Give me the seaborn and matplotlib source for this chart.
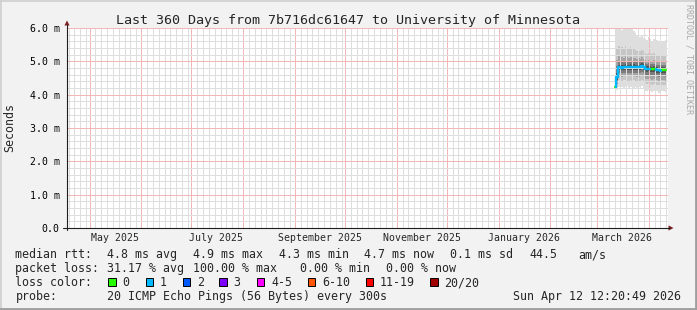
import numpy as np
import pandas as pd
import matplotlib
matplotlib.use("Agg")
import matplotlib.pyplot as plt
import matplotlib.dates as mdates
from matplotlib.patches import Rectangle, Polygon
from matplotlib.lines import Line2D
from matplotlib.ticker import FuncFormatter, FixedLocator
import seaborn as sns

# ---------------- data ----------------
title = "Last 360 Days from 7b716dc61647 to University of Minnesota"
range_start = pd.Timestamp("2025-04-17 12:20:49")
range_end = pd.Timestamp("2026-04-12 12:20:49")
sample_times = pd.date_range("2026-03-11 14:45", periods=31, freq="D")

median_ms = [4.24, 4.52, 4.82, 4.82, 4.81, 4.82, 4.83, 4.82, 4.82, 4.83, 4.82,
             4.83, 4.82, 4.82, 4.82, 4.83, 4.86, 4.83, 4.78, 4.77, 4.78, 4.77,
             4.76, 4.77, 4.76, 4.74, 4.73, 4.72, 4.74, 4.74, 4.73]
loss_count = [0, 1, 1, 1, 1, 1, 1, 1, 1, 1, 1, 1, 1, 1, 1, 1, 1, 1, 1, 1, 1,
              0, 0, 0, 0, 1, 1, 1, 0, 0, 0]

smoke_max = [4.90, 6.0, 6.0, 6.0, 5.95, 6.0, 6.0, 6.0, 5.97, 6.0, 6.0, 5.92,
             5.85, 5.80, 5.74, 5.72, 5.78, 5.70, 5.68, 5.65, 5.72, 5.68, 5.62,
             5.66, 5.70, 5.64, 5.60, 5.66, 5.62, 5.60, 5.64]
smoke_p90 = [4.80, 5.40, 5.45, 5.40, 5.42, 5.38, 5.45, 5.40, 5.38, 5.42, 5.40,
             5.36, 5.35, 5.30, 5.32, 5.30, 5.34, 5.30, 5.25, 5.22, 5.26, 5.24,
             5.22, 5.25, 5.22, 5.20, 5.18, 5.22, 5.20, 5.18, 5.20]
smoke_p80 = [4.65, 5.05, 5.15, 5.12, 5.14, 5.10, 5.15, 5.12, 5.10, 5.13, 5.12,
             5.10, 5.10, 5.08, 5.10, 5.08, 5.12, 5.08, 5.04, 5.02, 5.04, 5.02,
             5.00, 5.03, 5.00, 4.98, 4.97, 5.00, 4.99, 4.98, 4.99]
smoke_p70 = [4.55, 4.85, 5.00, 4.99, 4.98, 4.99, 5.00, 4.99, 4.98, 5.00, 4.99,
             4.99, 4.98, 4.98, 4.98, 4.99, 5.02, 4.99, 4.94, 4.93, 4.94, 4.93,
             4.92, 4.93, 4.92, 4.90, 4.89, 4.88, 4.90, 4.90, 4.89]
smoke_p60 = [4.40, 4.65, 4.90, 4.90, 4.89, 4.90, 4.91, 4.90, 4.90, 4.91, 4.90,
             4.91, 4.90, 4.90, 4.90, 4.91, 4.94, 4.91, 4.86, 4.85, 4.86, 4.85,
             4.84, 4.85, 4.84, 4.82, 4.81, 4.80, 4.82, 4.82, 4.81]
smoke_p40 = [4.10, 4.45, 4.74, 4.74, 4.73, 4.74, 4.75, 4.74, 4.74, 4.75, 4.74,
             4.75, 4.74, 4.74, 4.74, 4.75, 4.78, 4.75, 4.70, 4.69, 4.70, 4.68,
             4.67, 4.68, 4.67, 4.65, 4.64, 4.63, 4.65, 4.65, 4.64]
smoke_p30 = [3.95, 4.38, 4.66, 4.65, 4.64, 4.66, 4.66, 4.65, 4.65, 4.66, 4.65,
             4.66, 4.65, 4.65, 4.64, 4.66, 4.68, 4.66, 4.60, 4.59, 4.60, 4.58,
             4.56, 4.58, 4.57, 4.55, 4.54, 4.53, 4.55, 4.55, 4.54]
smoke_p20 = [3.85, 4.32, 4.56, 4.55, 4.54, 4.56, 4.56, 4.55, 4.55, 4.56, 4.55,
             4.56, 4.55, 4.54, 4.54, 4.55, 4.58, 4.55, 4.48, 4.47, 4.48, 4.46,
             4.45, 4.46, 4.45, 4.44, 4.42, 4.42, 4.44, 4.43, 4.42]
smoke_p10 = [3.75, 4.25, 4.44, 4.42, 4.42, 4.44, 4.43, 4.42, 4.42, 4.44, 4.42,
             4.43, 4.42, 4.40, 4.41, 4.42, 4.45, 4.42, 4.34, 4.32, 4.34, 4.32,
             4.30, 4.32, 4.31, 4.30, 4.28, 4.28, 4.30, 4.29, 4.28]
smoke_min = [3.65, 4.15, 4.22, 4.20, 4.24, 4.20, 4.22, 4.25, 4.20, 4.22, 4.24,
             4.20, 4.22, 4.18, 4.22, 4.20, 4.25, 4.20, 4.12, 4.10, 4.15, 4.12,
             4.08, 4.12, 4.10, 4.10, 4.06, 4.08, 4.12, 4.10, 4.08]

loss_labels = ["0", "1", "2", "3", "4-5", "6-10", "11-19", "20/20"]
loss_colors = ["#26ff00", "#00b8ff", "#0059ff", "#7e00ff", "#ff00ff",
               "#ff5500", "#ff0000", "#a10000"]

month_labels = ["May 2025", "July 2025", "September 2025", "November 2025",
                "January 2026", "March 2026"]
month_label_dates = ["2025-05-16", "2025-07-16", "2025-09-16", "2025-11-16",
                     "2026-01-16", "2026-03-16"]

y_major = [0.0, 1.0, 2.0, 3.0, 4.0, 5.0, 6.0]

rtt_stats = ["4.8 ms avg", "4.9 ms max", "4.3 ms min", "4.7 ms now",
             "0.1 ms sd", "44.5", "am/s"]
loss_stats = ["31.17 % avg", "100.00 % max", "0.00 % min", "0.00 % now"]
probe_text = "20 ICMP Echo Pings (56 Bytes) every 300s"
stamp_text = "Sun Apr 12 12:20:49 2026"

# ---------------- style ----------------
W, H = 697, 310
sns.set_style("white")
plt.rcParams["font.family"] = ["DejaVu Sans Mono"]
BACK = "#f2f2f2"
AXIS = "#1f1f1f"
ARROW = "#801f1f"
GRID = "#dedede"
MGRID = "#f2b6b6"
FS = 8.34     # legend text
SFS = 7.1     # axis tick labels
TFS = 9.6     # title

fig = plt.figure(figsize=(W / 100, H / 100), dpi=100, facecolor=BACK)


def fx(x):
    return x / W


def fy(y):
    return 1 - y / H


L, R, T, B = 67.0, 668.0, 28.0, 228.0
ax = fig.add_axes([fx(L), fy(B), fx(R) - fx(L), fy(T) - fy(B)])
ax.set_facecolor("white")
for s in ax.spines.values():
    s.set_visible(False)

# smoke
t_edges = pd.DatetimeIndex(list(sample_times) +
                           [sample_times[-1] + pd.Timedelta(days=1)])
pairs = [(smoke_min, smoke_max, "#dedede"),
         (smoke_p10, smoke_p90, "#c6c6c6"),
         (smoke_p20, smoke_p80, "#a4a4a4"),
         (smoke_p30, smoke_p70, "#7c7c7c"),
         (smoke_p40, smoke_p60, "#525252")]
for lo, hi, c in pairs:
    ax.fill_between(t_edges, list(lo) + [lo[-1]], list(hi) + [hi[-1]],
                    step="post", color=c, lw=0, zorder=1)


def loss_label(n):
    if n <= 3:
        return loss_labels[n]
    if n <= 5:
        return "4-5"
    if n <= 10:
        return "6-10"
    if n <= 19:
        return "11-19"
    return "20/20"


rows = []
for i, (m, n) in enumerate(zip(median_ms, loss_count)):
    lab = loss_label(n)
    if i > 0:
        rows.append((t_edges[i], median_ms[i - 1], lab, i))
    rows.append((t_edges[i], m, lab, i))
    rows.append((t_edges[i + 1], m, lab, i))
med_df = pd.DataFrame(rows, columns=["time", "rtt", "loss", "seg"])
sns.lineplot(data=med_df, x="time", y="rtt", hue="loss", units="seg",
             estimator=None, sort=False,
             palette=dict(zip(loss_labels, loss_colors)),
             lw=1.7, legend=False, ax=ax, zorder=4)

ax.set_xlim(range_start, range_end)
ax.set_ylim(0, 6.0)
ax.set_xlabel("")
ax.set_ylabel("")

# grid: majors at month starts, minors every 3.5 days inside each month
month_starts = pd.date_range("2025-04-01", "2026-05-01", freq="MS")
minor_t = []
for a, b in zip(month_starts[:-1], month_starts[1:]):
    t = a + pd.Timedelta(hours=84)
    while t < b - pd.Timedelta(hours=36):
        minor_t.append(t)
        t += pd.Timedelta(hours=84)
ax.xaxis.set_major_locator(FixedLocator(mdates.date2num(month_starts)))
ax.xaxis.set_minor_locator(FixedLocator(mdates.date2num(pd.DatetimeIndex(minor_t))))
ax.yaxis.set_major_locator(FixedLocator(y_major))
y_minor = [round(k * 0.2, 1) for k in range(31) if k % 5 != 0]
ax.yaxis.set_minor_locator(FixedLocator(y_minor))
ax.set_axisbelow(False)
ax.grid(which="minor", color=GRID, lw=0.72, ls="-", zorder=2,
        snap=True, antialiased=True)
ax.grid(which="major", color=MGRID, lw=0.72, ls="-", zorder=2.1,
        snap=True, antialiased=True)
ax.tick_params(axis="x", which="both", labelbottom=False)
ax.tick_params(axis="x", which="major", length=2.2, width=0.72,
               color="#e88e8e", direction="out")
ax.tick_params(axis="x", which="minor", length=1.4, width=0.72,
               color="#c0c0c0", direction="out")
ax.tick_params(axis="y", which="major", length=2.9, width=0.72, color=AXIS,
               direction="out", pad=2.3, labelsize=SFS, labelcolor="black")
ax.tick_params(axis="y", which="minor", length=0)
ax.yaxis.set_major_formatter(
    FuncFormatter(lambda v, p: "0.0" if abs(v) < 1e-9 else f"{v:.1f} m"))

# month labels
for lab, d in zip(month_labels, month_label_dates):
    ax.annotate(lab, xy=(mdates.date2num(pd.Timestamp(d)), 0),
                xycoords=("data", "axes fraction"),
                xytext=(0, -(240.7 - B) * 0.72), textcoords="offset points",
                ha="center", va="baseline", fontsize=SFS)

# axes lines and arrows
fig.add_artist(Line2D([fx(L), fx(L)], [fy(230), fy(25)], color=AXIS, lw=0.8))
fig.add_artist(Line2D([fx(63), fx(669.5)], [fy(B), fy(B)], color=AXIS, lw=0.8))
fig.add_artist(Polygon([(fx(L - 2.6), fy(25.5)), (fx(L + 2.6), fy(25.5)),
                        (fx(L), fy(20.5))], closed=True, color=ARROW, lw=0))
fig.add_artist(Polygon([(fx(668.5), fy(B - 2.6)), (fx(668.5), fy(B + 2.6)),
                        (fx(673.5), fy(B))], closed=True, color=ARROW, lw=0))

# title & labels
fig.text(fx(348.5), fy(24), title, ha="center", va="baseline", fontsize=TFS)
fig.text(fx(10), fy(128), "Seconds", rotation=90, ha="center", va="center",
         fontsize=FS)
fig.text(fx(688.5), fy(4), "RRDTOOL / TOBI OETIKER", rotation=270,
         ha="center", va="top", fontsize=6.0, color="#a8a8a8")


# legend block
def txt(x, y, s):
    fig.text(fx(x - 0.6), fy(y), s, ha="left", va="baseline", fontsize=FS)


txt(16, 258, "median rtt:")
for x, s in zip([107.3, 193.3, 279.3, 365, 451, 530, 579.3], rtt_stats):
    txt(x, 258, s)
txt(16, 272, "packet loss:")
for x, s in zip([107.3, 193.3, 300.7, 386.7], loss_stats):
    txt(x, 272, s)
txt(16, 286, "loss color:")
box_x = [108, 145.7, 182.7, 219.3, 256.7, 307.7, 365.7, 430]
for x, lab, c in zip(box_x, loss_labels, loss_colors):
    fig.add_artist(Rectangle((fx(x), fy(286)), 7.7 / W, 7.7 / H,
                             transform=fig.transFigure, facecolor=c,
                             edgecolor="black", lw=0.7))
    txt(x + 15, 286, lab)
txt(16, 300, "probe:")
txt(107.3, 300, probe_text)
txt(513.3, 300, stamp_text)

# image border (shade A / shade B)
fig.add_artist(Line2D([0, 1], [fy(0.5), fy(0.5)], color="#cfcfcf", lw=1.2))
fig.add_artist(Line2D([fx(0.5), fx(0.5)], [0, 1], color="#cfcfcf", lw=1.2))
fig.add_artist(Line2D([0, 1], [fy(309), fy(309)], color="#9e9e9e", lw=2.0))
fig.add_artist(Line2D([fx(696), fx(696)], [0, 1], color="#9e9e9e", lw=2.0))

fig.savefig("out.png", dpi=100, facecolor=BACK)
